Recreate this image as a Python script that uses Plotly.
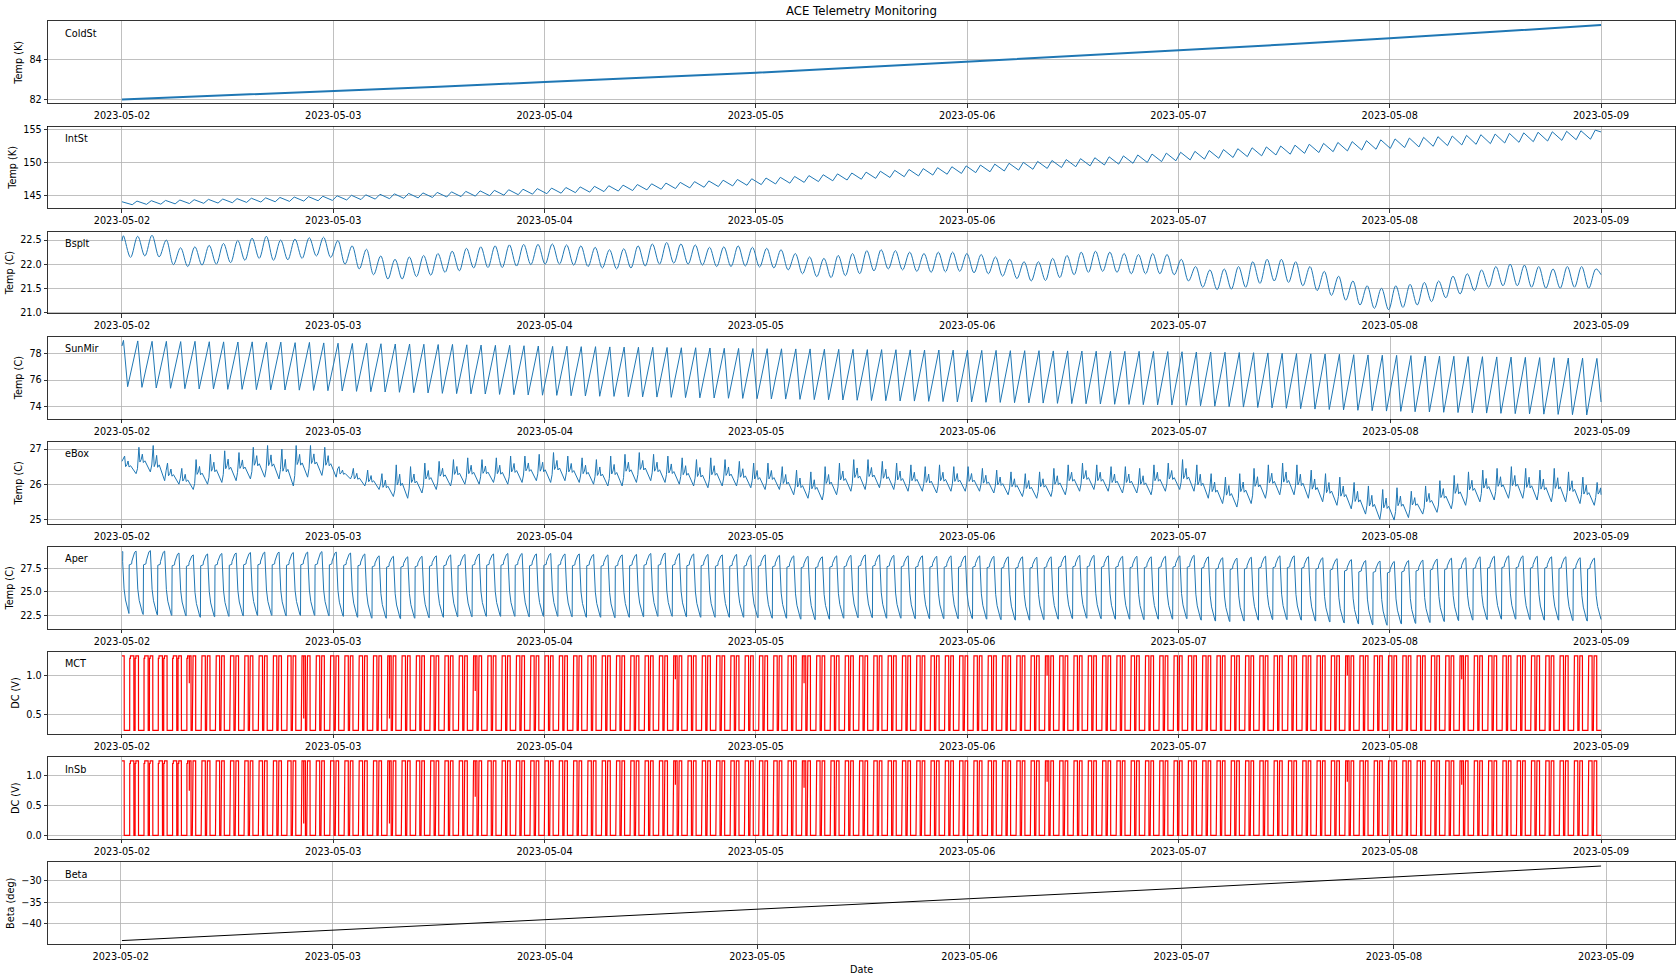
import pandas as pd
import plotly.graph_objects as go

# ---------------------------------------------------------------- time base
START = pd.Timestamp("2023-05-02 00:00:00")
DATA_END = 7.0            # days after START
ORBIT = 0.06766           # orbital period in days (read from peak spacing)
DAY_TICKS = ["2023-05-02", "2023-05-03", "2023-05-04", "2023-05-05",
             "2023-05-06", "2023-05-07", "2023-05-08", "2023-05-09"]

# ---------------------------------------------------------------- ColdSt (K)
coldst_day = [0.0, 0.5, 1.0, 1.5, 2.0, 2.5, 3.0, 3.5, 4.0, 4.5, 5.0, 5.5, 6.0, 6.5, 7.0]
coldst_val = [82.0, 82.21, 82.43, 82.65, 82.88, 83.1, 83.35, 83.62, 83.9,
              84.18, 84.47, 84.77, 85.08, 85.4, 85.75]

# ---------------------------------------------------------------- IntSt (K)
INTST_TROUGH0 = 0.0487
intst_start, intst_end = 144.0, 154.6
intst_trough = [
    143.55, 143.6, 143.63, 143.68, 143.72, 143.76, 143.8, 143.85, 143.9, 143.95, 144.0, 144.05, 144.1, 144.15, 144.2,
    144.27, 144.33, 144.4, 144.46, 144.52, 144.58, 144.65, 144.72, 144.78, 144.85, 144.92, 145.0, 145.07, 145.15, 145.22,
    145.3, 145.38, 145.46, 145.54, 145.62, 145.7, 145.8, 145.9, 146.0, 146.1, 146.2, 146.3, 146.4, 146.5, 146.6,
    146.7, 146.82, 146.94, 147.06, 147.18, 147.3, 147.42, 147.55, 147.68, 147.8, 147.92, 148.05, 148.18, 148.3,
    148.42, 148.55, 148.67, 148.8, 148.93, 149.06, 149.19, 149.32, 149.45, 149.58, 149.71, 149.84, 149.97, 150.1, 150.22,
    150.35, 150.47, 150.6, 150.72, 150.85, 150.97, 151.1, 151.22, 151.35, 151.47, 151.6, 151.72, 151.85, 151.97, 152.1,
    152.22, 152.32, 152.42, 152.52, 152.62, 152.72, 152.82, 152.92, 153.02, 153.12, 153.22, 153.32, 153.42, 153.5]
intst_peak = [
    144.1, 144.16, 144.2, 144.26, 144.31, 144.36, 144.41, 144.47, 144.53, 144.59, 144.65, 144.71, 144.77, 144.83, 144.9,
    144.98, 145.05, 145.13, 145.2, 145.27, 145.34, 145.42, 145.5, 145.57, 145.65, 145.73, 145.82, 145.9, 145.99, 146.07,
    146.16, 146.25, 146.34, 146.43, 146.52, 146.61, 146.72, 146.83, 146.94, 147.05, 147.16, 147.27, 147.38, 147.49, 147.6,
    147.71, 147.84, 147.97, 148.1, 148.23, 148.36, 148.49, 148.63, 148.77, 148.9, 149.03, 149.17, 149.31, 149.44,
    149.57, 149.71, 149.84, 149.98, 150.12, 150.26, 150.4, 150.54, 150.68, 150.82, 150.96, 151.1, 151.24, 151.38, 151.51,
    151.65, 151.78, 151.92, 152.05, 152.19, 152.32, 152.46, 152.59, 152.73, 152.86, 153.0, 153.13, 153.27, 153.4, 153.54,
    153.67, 153.78, 153.88, 153.98, 154.08, 154.18, 154.28, 154.38, 154.46, 154.55, 154.62, 154.7, 154.78, 154.87]

# ---------------------------------------------------------------- Bsplt (C)
BSPLT_PEAK0 = 0.0068
bsplt_start, bsplt_end = 22.48, 21.78
bsplt_peak = [
    22.59, 22.58, 22.6, 22.5, 22.34, 22.36, 22.39, 22.43, 22.49, 22.54, 22.58, 22.5, 22.52, 22.55, 22.56,
    22.49, 22.38, 22.31, 22.17, 22.1, 22.15, 22.18, 22.22, 22.27, 22.33, 22.36, 22.38, 22.4, 22.41, 22.41,
    22.42, 22.4, 22.38, 22.35, 22.3, 22.32, 22.38, 22.42, 22.45, 22.42, 22.4, 22.35, 22.36, 22.38, 22.35,
    22.33, 22.3, 22.22, 22.15, 22.12, 22.18, 22.22, 22.28, 22.3, 22.28, 22.25, 22.22, 22.25, 22.25,
    22.22, 22.2, 22.15, 22.1, 22.05, 22.05, 22.12, 22.18, 22.25, 22.27, 22.25, 22.22, 22.2, 22.22, 22.2,
    22.1, 21.95, 21.88, 21.9, 21.95, 22.05, 22.1, 22.1, 22.05, 21.95, 21.85, 21.75, 21.65, 21.55, 21.5,
    21.55, 21.58, 21.62, 21.65, 21.75, 21.8, 21.88, 21.95, 22.0, 21.98, 21.95, 21.9, 21.95, 21.95, 21.9]
bsplt_trough = [
    22.14, 22.17, 22.15, 21.99, 21.95, 21.98, 22.0, 22.03, 22.08, 22.12, 22.08, 22.09, 22.12, 22.17, 22.14,
    22.0, 21.9, 21.78, 21.69, 21.69, 21.74, 21.77, 21.83, 21.86, 21.92, 21.93, 21.93, 21.96, 21.99, 22.0,
    22.0, 21.98, 21.95, 21.92, 21.9, 21.92, 21.96, 22.0, 22.02, 22.0, 21.98, 21.95, 21.95, 21.96, 21.94,
    21.92, 21.88, 21.8, 21.74, 21.72, 21.76, 21.8, 21.86, 21.9, 21.88, 21.85, 21.83, 21.84, 21.85,
    21.82, 21.8, 21.75, 21.7, 21.65, 21.66, 21.72, 21.78, 21.83, 21.85, 21.83, 21.8, 21.8, 21.8, 21.78,
    21.65, 21.52, 21.47, 21.48, 21.52, 21.6, 21.65, 21.62, 21.55, 21.45, 21.35, 21.25, 21.15, 21.08, 21.05,
    21.1, 21.15, 21.22, 21.3, 21.38, 21.45, 21.52, 21.55, 21.55, 21.52, 21.5, 21.5, 21.52, 21.5]

# ---------------------------------------------------------------- SunMir (C)
SUNMIR_PEAK0 = 0.0072
sunmir_start = 78.55
sunmir_peak = [
    78.97, 78.93, 78.9, 78.9, 78.88, 78.9, 78.87, 78.86, 78.85, 78.86, 78.83, 78.84, 78.8, 78.82, 78.78,
    78.76, 78.74, 78.75, 78.72, 78.7, 78.7, 78.68, 78.66, 78.67, 78.64, 78.62, 78.6, 78.6, 78.57, 78.55,
    78.52, 78.53, 78.5, 78.5, 78.48, 78.47, 78.46, 78.45, 78.44, 78.42, 78.42, 78.4, 78.38, 78.37, 78.36,
    78.35, 78.34, 78.33, 78.33, 78.31, 78.3, 78.3, 78.28, 78.28, 78.27, 78.26, 78.25, 78.25, 78.24,
    78.23, 78.22, 78.22, 78.2, 78.2, 78.2, 78.18, 78.18, 78.17, 78.16, 78.16, 78.15, 78.15, 78.14, 78.13,
    78.12, 78.1, 78.1, 78.08, 78.06, 78.05, 78.03, 78.0, 77.98, 77.96, 77.95, 77.93, 77.9, 77.88, 77.86,
    77.85, 77.83, 77.8, 77.8, 77.78, 77.76, 77.75, 77.73, 77.72, 77.7, 77.68, 77.67, 77.65, 77.64, 77.62]
sunmir_trough = [
    75.5, 75.45, 75.4, 75.38, 75.35, 75.33, 75.33, 75.3, 75.3, 75.28, 75.26, 75.25, 75.24, 75.22, 75.2,
    75.18, 75.15, 75.12, 75.1, 75.08, 75.05, 75.03, 75.0, 74.98, 74.96, 74.95, 74.92, 74.9, 74.88, 74.86,
    74.85, 74.82, 74.8, 74.78, 74.77, 74.75, 74.73, 74.72, 74.7, 74.68, 74.66, 74.65, 74.63, 74.62, 74.6,
    74.58, 74.57, 74.55, 74.53, 74.52, 74.5, 74.48, 74.46, 74.45, 74.43, 74.42, 74.4, 74.38, 74.36,
    74.35, 74.33, 74.32, 74.3, 74.28, 74.27, 74.25, 74.23, 74.22, 74.2, 74.18, 74.17, 74.15, 74.13, 74.12,
    74.1, 74.07, 74.04, 74.0, 73.97, 73.94, 73.91, 73.88, 73.85, 73.82, 73.79, 73.76, 73.73, 73.7, 73.67,
    73.65, 73.62, 73.6, 73.58, 73.56, 73.54, 73.52, 73.5, 73.48, 73.46, 73.44, 73.42, 73.4, 73.38, 74.35]

# ---------------------------------------------------------------- eBox (C)
EBOX_SPIKE0 = 0.0126
ebox_start, ebox_end = 26.65, 25.7
ebox_peak = [
    26.8, 27.05, 27.1, 26.6, 26.45, 26.7, 26.85, 26.95, 26.9, 27.05, 27.1, 27.0, 27.1, 27.1, 27.05,
    26.5, 26.45, 26.4, 26.3, 26.55, 26.5, 26.6, 26.65, 26.7, 26.75, 26.7, 26.75, 26.8, 26.8, 26.85,
    26.9, 26.8, 26.75, 26.7, 26.8, 26.85, 26.9, 26.85, 26.8, 26.75, 26.7, 26.75, 26.7, 26.65, 26.6,
    26.6, 26.5, 26.4, 26.35, 26.5, 26.6, 26.7, 26.7, 26.65, 26.6, 26.55, 26.5, 26.55, 26.5,
    26.5, 26.45, 26.4, 26.35, 26.3, 26.35, 26.45, 26.55, 26.6, 26.55, 26.5, 26.5, 26.45, 26.55, 26.6,
    26.7, 26.55, 26.3, 26.2, 26.3, 26.45, 26.55, 26.6, 26.55, 26.4, 26.3, 26.2, 26.05, 25.95, 25.85,
    25.9, 25.8, 25.95, 26.1, 26.25, 26.35, 26.4, 26.45, 26.5, 26.45, 26.4, 26.45, 26.35, 26.2, 26.05]
ebox_trough = [
    26.3, 26.35, 26.1, 26.0, 25.85, 26.0, 26.05, 26.1, 26.15, 26.2, 26.15, 25.95, 26.2, 26.25, 26.2,
    26.15, 25.95, 25.85, 25.65, 25.6, 25.75, 25.85, 25.95, 26.0, 26.0, 26.05, 26.0, 26.05, 26.1, 26.05,
    26.1, 26.05, 26.0, 25.95, 25.95, 26.05, 26.1, 26.05, 26.0, 25.95, 25.9, 25.95, 25.95, 25.9, 25.85,
    25.85, 25.7, 25.6, 25.55, 25.7, 25.8, 25.85, 25.9, 25.85, 25.8, 25.8, 25.75, 25.8, 25.8,
    25.8, 25.75, 25.7, 25.65, 25.6, 25.65, 25.7, 25.8, 25.85, 25.8, 25.75, 25.75, 25.7, 25.8, 25.85,
    25.8, 25.6, 25.45, 25.35, 25.45, 25.6, 25.7, 25.7, 25.6, 25.5, 25.4, 25.3, 25.15, 25.0, 24.98,
    25.05, 25.15, 25.2, 25.3, 25.4, 25.5, 25.55, 25.6, 25.6, 25.55, 25.5, 25.5, 25.45, 25.4, 25.5]
# orbit-shape of eBox: (fraction of orbit after spike, level between trough and peak)
ebox_shape = [(0.0, 1.0), (0.07, 0.4), (0.16, 0.5), (0.24, 0.72), (0.31, 0.38), (0.42, 0.45),
              (0.55, 0.3), (0.66, 0.12), (0.8, 0.0), (0.9, 0.28)]

# ---------------------------------------------------------------- Aper (C)
APER_RISE0 = 0.033
aper_start, aper_end = 29.2, 22.0
aper_min = [
    22.7, 22.6, 22.55, 22.5, 22.45, 22.3, 22.35, 22.4, 22.45, 22.5, 22.5, 22.45, 22.5, 22.5, 22.45,
    22.4, 22.3, 22.2, 22.2, 22.15, 22.2, 22.25, 22.3, 22.35, 22.35, 22.4, 22.4, 22.4, 22.35, 22.4,
    22.4, 22.35, 22.3, 22.3, 22.25, 22.3, 22.35, 22.4, 22.4, 22.35, 22.3, 22.3, 22.3, 22.3, 22.25,
    22.2, 22.2, 22.1, 22.05, 22.1, 22.2, 22.25, 22.25, 22.2, 22.2, 22.15, 22.15, 22.15, 22.15,
    22.15, 22.1, 22.05, 22.0, 22.0, 22.05, 22.1, 22.15, 22.2, 22.15, 22.1, 22.1, 22.05, 22.1, 22.1,
    22.15, 22.0, 21.9, 21.85, 21.9, 22.0, 22.05, 22.05, 22.0, 21.9, 21.8, 21.7, 21.6, 21.5, 21.46,
    21.6, 21.65, 21.75, 21.85, 21.95, 22.0, 22.05, 22.1, 22.1, 22.05, 22.0, 22.0, 21.95, 21.9]
aper_plateau = [
    27.95, 27.95, 27.9, 27.85, 27.8, 27.85, 27.9, 27.9, 27.95, 27.95, 27.95, 27.9, 27.95, 27.95, 27.95,
    27.9, 27.85, 27.75, 27.7, 27.7, 27.75, 27.8, 27.85, 27.85, 27.9, 27.9, 27.9, 27.9, 27.85, 27.9,
    27.9, 27.85, 27.85, 27.8, 27.8, 27.85, 27.9, 27.9, 27.9, 27.85, 27.85, 27.8, 27.8, 27.8, 27.8,
    27.75, 27.7, 27.65, 27.65, 27.7, 27.75, 27.8, 27.8, 27.75, 27.75, 27.7, 27.7, 27.7, 27.7,
    27.7, 27.65, 27.6, 27.6, 27.6, 27.65, 27.7, 27.75, 27.75, 27.7, 27.7, 27.65, 27.65, 27.65, 27.7,
    27.7, 27.6, 27.5, 27.45, 27.5, 27.6, 27.65, 27.65, 27.6, 27.5, 27.4, 27.3, 27.2, 27.15, 27.1,
    27.2, 27.3, 27.4, 27.45, 27.5, 27.55, 27.6, 27.65, 27.65, 27.6, 27.6, 27.55, 27.5, 27.5]
aper_peak = [
    29.3, 29.35, 29.3, 29.1, 28.9, 29.0, 29.05, 29.1, 29.15, 29.2, 29.2, 29.15, 29.2, 29.25, 29.2,
    29.1, 29.0, 28.8, 28.75, 28.7, 28.75, 28.8, 28.9, 28.95, 29.0, 29.0, 29.05, 29.05, 29.0, 29.05,
    29.0, 29.0, 28.95, 28.9, 28.9, 28.95, 29.05, 29.1, 29.05, 29.0, 28.95, 28.9, 28.95, 28.9, 28.9,
    28.85, 28.8, 28.75, 28.7, 28.8, 28.85, 28.9, 28.9, 28.85, 28.8, 28.8, 28.75, 28.8, 28.8,
    28.8, 28.75, 28.7, 28.7, 28.65, 28.7, 28.8, 28.85, 28.85, 28.8, 28.75, 28.75, 28.7, 28.75, 28.8,
    28.85, 28.7, 28.6, 28.55, 28.65, 28.75, 28.8, 28.8, 28.7, 28.6, 28.5, 28.4, 28.3, 28.25, 28.2,
    28.3, 28.35, 28.45, 28.55, 28.6, 28.7, 28.75, 28.8, 28.8, 28.75, 28.7, 28.7, 28.6, 28.55]

# ---------------------------------------------------------------- MCT / InSb (V)
SQUARE_RISE0 = -0.0311
mct_low, mct_high = 0.30, 1.25
insb_low, insb_high = 0.0, 1.25
# depth of the extra short drop seen inside some "on" periods (None = no extra drop)
mct_glitch = [
    None, None, None, None, None, 0.9, None, None, None, None, None, None, None, 0.45, None,
    None, None, None, None, 0.45, None, None, None, None, None, 0.8, None, None, None, None,
    None, None, None, None, None, None, None, None, None, 0.95, None, None, None, None, None,
    None, None, None, 0.9, None, None, None, None, None, None, None, None, None, None,
    None, None, None, None, None, None, 1.0, None, None, None, None, None, None, None, None,
    None, None, None, None, None, None, None, None, None, None, None, None, 1.0, None, None,
    None, None, None, None, None, 0.95, None, None, None, None, None, None, None, None, None]
insb_glitch = [
    None, None, None, None, None, 0.75, None, None, None, None, None, None, None, 0.2, None,
    None, None, None, None, 0.2, None, None, None, None, None, 0.65, None, None, None, None,
    None, None, None, None, None, None, None, None, None, 0.85, None, None, None, None, None,
    None, None, None, 0.8, None, None, None, None, None, None, None, None, None, None,
    None, None, None, None, None, None, 0.9, None, None, None, None, None, None, None, None,
    None, None, None, None, None, None, None, None, None, None, None, None, 0.9, None, None,
    None, None, None, None, None, 0.85, None, None, None, None, None, None, None, None, None]

# ---------------------------------------------------------------- Beta (deg)
beta_day = [0.006, 1.0, 2.0, 3.0, 4.0, 5.0, 6.0, 6.976]
beta_val = [-43.95, -41.55, -39.07, -36.6, -34.15, -31.7, -29.15, -26.5]

# ---------------------------------------------------------------- labels
panel_names = ["ColdSt", "IntSt", "Bsplt", "SunMir", "eBox", "Aper", "MCT", "InSb", "Beta"]
y_titles = ["Temp (K)", "Temp (K)", "Temp (C)", "Temp (C)", "Temp (C)", "Temp (C)",
            "DC (V)", "DC (V)", "Beta (deg)"]
y_tickvals = [[82, 84], [145, 150, 155], [21.0, 21.5, 22.0, 22.5], [74, 76, 78], [25, 26, 27],
              [22.5, 25.0, 27.5], [0.5, 1.0], [0.0, 0.5, 1.0], [-40, -35, -30]]
y_ticktext = [["82", "84"], ["145", "150", "155"], ["21.0", "21.5", "22.0", "22.5"],
              ["74", "76", "78"], ["25", "26", "27"], ["22.5", "25.0", "27.5"],
              ["0.5", "1.0"], ["0.0", "0.5", "1.0"], ["\u221240", "\u221235", "\u221230"]]


# ================================================================ builders
def clip(t, v):
    out_t, out_v = [], []
    for a, b in zip(t, v):
        if 0.0 <= a <= DATA_END + 1e-9:
            out_t.append(a)
            out_v.append(b)
    return out_t, out_v


def build_intst():
    t, v = [0.0], [intst_start]
    for k, (tr, pk) in enumerate(zip(intst_trough, intst_peak)):
        a = INTST_TROUGH0 + k * ORBIT
        t += [a, a + 0.33 * ORBIT]
        v += [tr, pk]
    t.append(DATA_END); v.append(intst_end)
    return clip(t, v)


def build_bsplt():
    t, v = [0.0], [bsplt_start]
    for k, pk in enumerate(bsplt_peak):
        a = BSPLT_PEAK0 + k * ORBIT
        t.append(a); v.append(pk)
        if k < len(bsplt_trough):
            t.append(a + 0.5 * ORBIT); v.append(bsplt_trough[k])
    t.append(DATA_END); v.append(bsplt_end)
    return clip(t, v)


def build_sunmir():
    t, v = [0.0], [sunmir_start]
    for k, (pk, tr) in enumerate(zip(sunmir_peak, sunmir_trough)):
        a = SUNMIR_PEAK0 + k * ORBIT
        t += [a, a + 0.29 * ORBIT]
        v += [pk, tr]
    return clip(t, v)


def build_ebox():
    t, v = [0.0], [ebox_start]
    for k, (pk, tr) in enumerate(zip(ebox_peak, ebox_trough)):
        a = EBOX_SPIKE0 + k * ORBIT
        for f, w in ebox_shape:
            t.append(a + f * ORBIT)
            v.append(tr + w * (pk - tr))
    t.append(DATA_END); v.append(ebox_end)
    return clip(t, v)


def build_aper():
    t, v = [0.0, 0.004], [aper_start, aper_start + 0.05]
    lo0 = aper_min[0]
    for f, w in [(-0.44, 0.85), (-0.40, 0.55), (-0.34, 0.40), (-0.24, 0.22), (-0.12, 0.09), (-0.02, 0.0)]:
        t.append(APER_RISE0 + f * ORBIT); v.append(lo0 + w * (aper_start - lo0))
    n = len(aper_peak)
    for k in range(n):
        r = APER_RISE0 + k * ORBIT
        lo, pl, pk = aper_min[k], aper_plateau[k], aper_peak[k]
        nxt = aper_min[k + 1] if k + 1 < n else aper_end
        pts = [(0.0, lo), (0.02, pl - 0.1), (0.19, pl), (0.21, pl + 0.3),
               (0.30, pl + 0.3 + 0.55 * (pk - pl - 0.3)), (0.40, pk - 0.12), (0.50, pk),
               (0.52, nxt + 0.85 * (pk - nxt)), (0.56, nxt + 0.55 * (pk - nxt)),
               (0.62, nxt + 0.40 * (pk - nxt)), (0.72, nxt + 0.22 * (pk - nxt)),
               (0.84, nxt + 0.09 * (pk - nxt)), (0.96, nxt + 0.01 * (pk - nxt)), (0.985, nxt)]
        for f, val in pts:
            t.append(r + f * ORBIT); v.append(val)
    return clip(t, v)


def build_square(glitches, low, high):
    # per orbit: on (with small step), short off, on again, long off
    step = 0.035 * (high - low)
    t, v = [0.0], [high]
    for j, g in enumerate(glitches):
        r = SQUARE_RISE0 + j * ORBIT
        pts = [(0.0, low), (0.005, high - step), (0.05, high - step), (0.055, high),
               (0.29, high), (0.295, low), (0.38, low), (0.385, high - step),
               (0.43, high - step), (0.435, high), (0.615, high), (0.62, low)]
        if g is not None:
            pts[4:4] = [(0.17, high), (0.172, g), (0.175, high)]
        for f, val in pts:
            t.append(r + f * ORBIT); v.append(val)
    t.append(DATA_END); v.append(low)
    return clip(t, v)


def to_time(days):
    return [START + pd.Timedelta(days=float(d)) for d in days]


BLUE = "#1f77b4"
series = [
    ((coldst_day, coldst_val), BLUE, 2.0, "linear"),
    (build_intst(), BLUE, 1.0, "linear"),
    (build_bsplt(), BLUE, 1.0, "spline"),
    (build_sunmir(), BLUE, 1.0, "linear"),
    (build_ebox(), BLUE, 1.0, "linear"),
    (build_aper(), BLUE, 1.0, "linear"),
    (build_square(mct_glitch, mct_low, mct_high), "red", 1.2, "linear"),
    (build_square(insb_glitch, insb_low, insb_high), "red", 1.2, "linear"),
    ((beta_day, beta_val), "black", 1.0, "linear"),
]

# ================================================================ figure
FIG_W, FIG_H = 1680, 980
PANEL_TOP0, PANEL_STEP, PANEL_H = 21.3, 105.125, 82.0
PLOT_LEFT, PLOT_RIGHT = 47.5, 1675.5
FONT = "DejaVu Sans"
TICK_SIZE = 9.7

fig = go.Figure()
layout = dict(
    width=FIG_W, height=FIG_H,
    margin=dict(l=PLOT_LEFT, r=FIG_W - PLOT_RIGHT, t=0, b=0, pad=0),
    paper_bgcolor="white", plot_bgcolor="white",
    showlegend=False, hovermode=False,
    font=dict(family=FONT, size=TICK_SIZE, color="black"),
)
annotations = []

for i, ((td, vals), color, width, shape) in enumerate(series):
    n = i + 1
    xa = "x" if n == 1 else f"x{n}"
    ya = "y" if n == 1 else f"y{n}"
    line = dict(color=color, width=width, shape=shape)
    if shape == "spline":
        line["smoothing"] = 1.0
    fig.add_trace(go.Scatter(x=to_time(td), y=vals, mode="lines", line=line,
                             xaxis=xa, yaxis=ya, hoverinfo="skip"))

    span = max(td) - min(td)
    x0 = min(td) - 0.05 * span
    x1 = max(td) + 0.05 * span
    vmin, vmax = min(vals), max(vals)
    vr = vmax - vmin
    top = PANEL_TOP0 + i * PANEL_STEP
    bottom = top + PANEL_H
    axis_common = dict(
        showline=True, mirror=True, linecolor="black", linewidth=0.8,
        ticks="outside", ticklen=3.5, tickwidth=0.8, tickcolor="black",
        showgrid=True, gridcolor="#b0b0b0", gridwidth=0.8, zeroline=False,
        tickfont=dict(family=FONT, size=TICK_SIZE, color="black"),
        automargin=False,
    )
    layout["xaxis" if n == 1 else f"xaxis{n}"] = dict(
        axis_common, domain=[0, 1], anchor=ya, type="date",
        range=to_time([x0, x1]), tickvals=DAY_TICKS, tickformat="%Y-%m-%d",
    )
    layout["yaxis" if n == 1 else f"yaxis{n}"] = dict(
        axis_common, domain=[1 - bottom / FIG_H, 1 - top / FIG_H], anchor=xa,
        range=[vmin - 0.05 * vr, vmax + 0.05 * vr],
        tickvals=y_tickvals[i], ticktext=y_ticktext[i],
        title=dict(text=y_titles[i], font=dict(family=FONT, size=TICK_SIZE, color="black"), standoff=4),
    )
    annotations.append(dict(
        text=panel_names[i], xref=f"{xa} domain", yref=f"{ya} domain",
        x=0.009, y=0.855, xanchor="left", yanchor="middle", showarrow=False,
        font=dict(family=FONT, size=TICK_SIZE, color="black"),
    ))

annotations.append(dict(text="ACE Telemetry Monitoring", xref="paper", yref="paper",
                        x=0.5, y=1 - 10.7 / FIG_H, xanchor="center", yanchor="middle",
                        showarrow=False, font=dict(family=FONT, size=11.7, color="black")))
annotations.append(dict(text="Date", xref="paper", yref="paper",
                        x=0.5, y=1 - 969.6 / FIG_H, xanchor="center", yanchor="middle",
                        showarrow=False, font=dict(family=FONT, size=TICK_SIZE, color="black")))
layout["annotations"] = annotations
fig.update_layout(**layout)
# remove the browser's default 8 px body margin so the figure starts at (0, 0); no mode bar
fig.write_html("out.html", config={"displayModeBar": False, "staticPlot": True},
               post_script="document.body.style.margin='0px';")
